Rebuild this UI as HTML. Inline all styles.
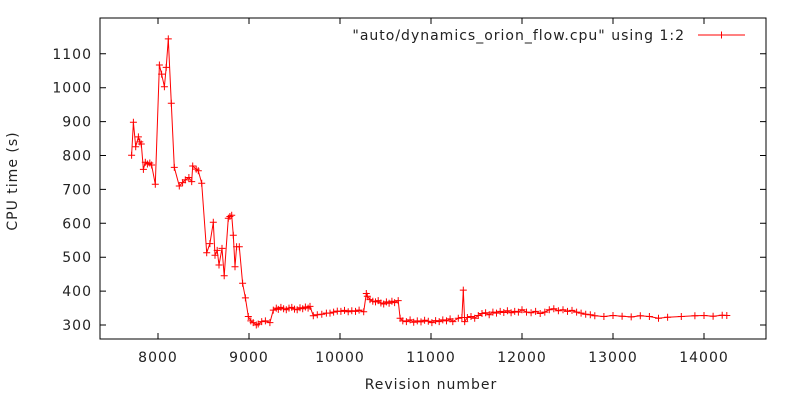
<!DOCTYPE html>
<html><head><meta charset="utf-8"><style>
html,body{margin:0;padding:0;background:#fff}
svg text{font-family:"DejaVu Sans","Liberation Sans",sans-serif;font-size:14px;letter-spacing:1px;fill:#222}
</style></head><body>
<svg id="chart" width="800" height="400" xmlns="http://www.w3.org/2000/svg">
<rect x="100" y="18" width="666" height="321" fill="none" stroke="#000" stroke-width="1"/>
<g id="axes"></g>
<text transform="translate(17,181) rotate(-90)" text-anchor="middle">CPU time (s)</text>
<text x="431" y="389" text-anchor="middle">Revision number</text>
<text x="685" y="40" text-anchor="end">"auto/dynamics_orion_flow.cpu" using 1:2</text>
<line x1="698" y1="35" x2="745" y2="35" stroke="#f00" stroke-width="1"/>
<path d="M718,35h7M721.5,31.5v7" stroke="#f00" stroke-width="1"/>
<g id="series"></g>
</svg>
<script>
const revisions=[7710,7730,7755,7785,7800,7817,7840,7860,7883,7910,7930,7970,8015,8040,8070,8090,8113,8146,8179,8234,8270,8300,8340,8370,8381,8420,8443,8480,8535,8570,8608,8626,8650,8670,8703,8728,8772,8790,8810,8827,8846,8864,8893,8930,8960,8992,9020,9046,9080,9101,9140,9180,9230,9267,9300,9322,9350,9380,9410,9440,9470,9500,9530,9560,9590,9620,9650,9670,9707,9750,9800,9850,9890,9930,9970,10010,10050,10090,10130,10170,10210,10260,10289,10300,10330,10360,10390,10420,10450,10480,10510,10540,10570,10600,10640,10660,10690,10730,10770,10810,10850,10890,10930,10970,11010,11050,11090,11130,11170,11210,11240,11300,11340,11355,11370,11400,11440,11480,11520,11560,11600,11640,11680,11720,11760,11800,11840,11880,11920,11960,12000,12050,12100,12150,12200,12250,12300,12350,12400,12450,12500,12550,12600,12650,12700,12750,12800,12900,13000,13100,13200,13300,13400,13500,13600,13750,13900,14000,14100,14200,14250,14300,14350];
const cpuTimes=[801,898,826,855,840,834,759,780,775,778,772,715,1067,1040,1003,1060,1144,954,765,710,720,728,735,723,769,760,755,718,513,540,603,506,520,477,526,445,615,620,624,565,472,531,531,423,380,325,312,307,300,303,310,312,307,344,350,346,352,348,345,350,352,347,345,351,348,353,350,355,327,330,332,335,335,338,341,340,343,339,342,340,344,339,393,385,375,370,368,372,365,362,368,364,370,366,372,320,312,310,315,308,312,309,314,311,307,313,310,315,312,318,310,320,322,403,310,322,325,320,328,334,336,330,338,335,340,337,342,336,340,338,345,338,336,340,334,338,345,348,342,345,340,343,338,335,332,330,327,325,328,326,324,327,325,320,323,325,327,328,326,329,328];
const xTicks=[8000,9000,10000,11000,12000,13000,14000];
const yTicks=[300,400,500,600,700,800,900,1000,1100];
const X=r=>158+(r-8000)*0.091;
const Y=v=>325-(v-300)*0.339;
const NS="http://www.w3.org/2000/svg";
const axes=document.getElementById('axes');
xTicks.forEach(t=>{
  const x=X(t);
  const l=document.createElementNS(NS,'path');
  l.setAttribute('d',`M${x},339v-6M${x},18v6`);
  l.setAttribute('stroke','#000');
  
  
  axes.appendChild(l);
  const tx=document.createElementNS(NS,'text');
  tx.setAttribute('x',x);tx.setAttribute('y',362);tx.setAttribute('text-anchor','middle');
  tx.textContent=t;
  
  
  axes.appendChild(tx);
});
yTicks.forEach(t=>{
  const y=Y(t);
  const l=document.createElementNS(NS,'path');
  l.setAttribute('d',`M100,${y}h6M766,${y}h-6`);
  l.setAttribute('stroke','#000');
  
  
  axes.appendChild(l);
  const tx=document.createElementNS(NS,'text');
  tx.setAttribute('x',92);tx.setAttribute('y',y+5);tx.setAttribute('text-anchor','end');
  tx.textContent=t;
  
  
  axes.appendChild(tx);
});
const series=document.getElementById('series');
let d='',m='';
revisions.forEach((r,i)=>{
  const x=X(r),y=Y(cpuTimes[i]);
  d+=(i?'L':'M')+x.toFixed(1)+','+y.toFixed(1);
  m+=`M${(x-3.5).toFixed(1)},${y.toFixed(1)}h7M${x.toFixed(1)},${(y-3.5).toFixed(1)}v7`;
});
const line=document.createElementNS(NS,'path');
line.setAttribute('d',d);line.setAttribute('fill','none');line.setAttribute('stroke','#f00');


series.appendChild(line);
const marks=document.createElementNS(NS,'path');
marks.setAttribute('d',m);marks.setAttribute('stroke','#f00');


series.appendChild(marks);
</script>
</body></html>
